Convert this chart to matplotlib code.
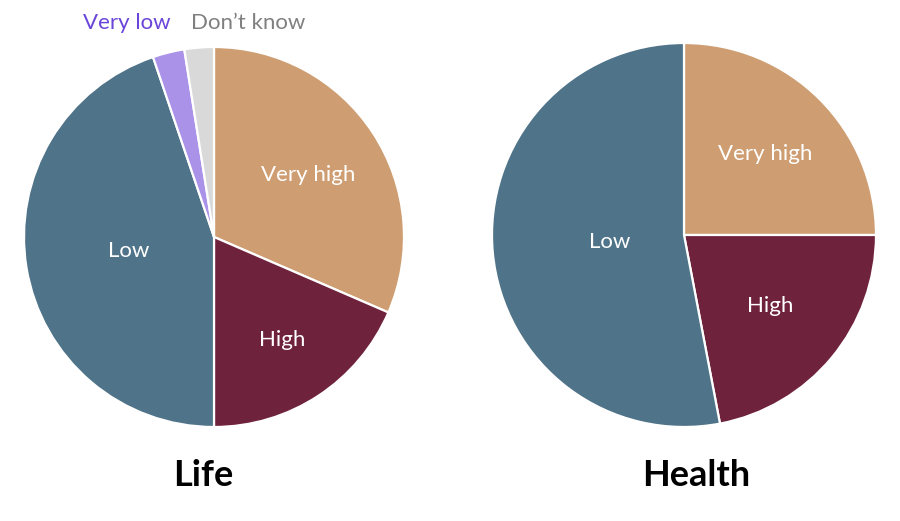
import numpy as np
import matplotlib.pyplot as plt

plt.rcParams['font.family'] = ['Lato', 'DejaVu Sans']

# data (percent)
life_labels = ["Very high", "High", "Low", "Very low", "Don\u2019t know"]
life_values = [31.5, 18.5, 44.8, 2.7, 2.5]
health_labels = ["Very high", "High", "Low"]
health_values = [25.0, 22.0, 53.0]

colors = {
    "Very high": "#CE9E72",
    "High": "#6F223B",
    "Low": "#4F7388",
    "Very low": "#AA92E8",
    "Don\u2019t know": "#D9D9D9",
}

fig = plt.figure(figsize=(9, 5.21), dpi=100)
W, H = 900, 521


def add_pie(cx, cy, r, labels, values, title, title_x, label_r):
    ax = fig.add_axes([(cx - r) / W, (H - cy - r) / H, 2 * r / W, 2 * r / H])
    wedges, _ = ax.pie(values, colors=[colors[l] for l in labels], startangle=90,
                       counterclock=False, radius=1,
                       wedgeprops=dict(edgecolor="white", linewidth=1.6))
    ax.set_xlim(-1, 1)
    ax.set_ylim(-1, 1)
    ax.set_aspect("equal")
    ax.axis("off")
    for w, lab, lr in zip(wedges, labels, label_r):
        if lr is None:
            continue
        mid = np.deg2rad((w.theta1 + w.theta2) / 2)
        ax.text(lr * np.cos(mid), lr * np.sin(mid), lab, color="white",
                fontsize=16, ha="center", va="center")
    fig.text(title_x / W, 1 - 476 / H, title, fontsize=26, fontweight="bold",
             ha="center", va="center")
    return ax


ax1 = add_pie(214, 237, 190, life_labels, life_values, "Life", 203,
              [0.59, 0.65, 0.455, None, None])
ax1.text(-0.23, 1.125, "Very low", color="#6A45D9", fontsize=16,
         ha="right", va="center", clip_on=False)
ax1.text(-0.12, 1.125, "Don\u2019t know", color="#808080", fontsize=16,
         ha="left", va="center", clip_on=False)

ax2 = add_pie(684, 235, 192, health_labels, health_values, "Health", 696,
              [0.6, 0.58, 0.39])

fig.savefig("out.png", dpi=100)
